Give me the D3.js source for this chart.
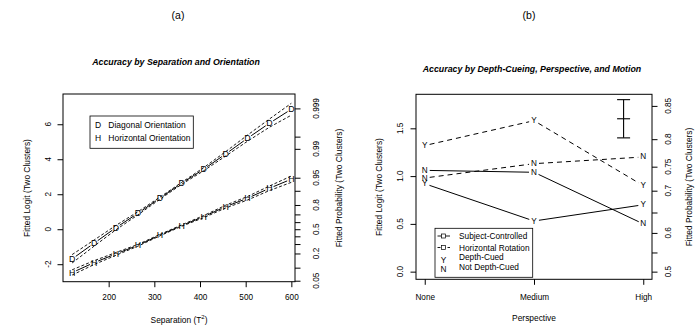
<html>
    <head>
        <style>
            body { margin: 0; background: #fff; }
            text { font-family: "Liberation Sans", Arial, sans-serif; fill: #000; }
        </style>
        <script src="https://d3js.org/d3.v7.min.js"></script>
    </head>
    <body>
        <svg id="chart" width="700" height="329"></svg>
        <script>
            // ---- data, panel (a) ----
            const separation = [120, 168, 216, 264, 312, 360, 408, 456, 504, 552, 600];
            const diagonal = [-1.70, -0.80, 0.09, 0.91, 1.77, 2.63, 3.43, 4.30, 5.20, 6.06, 6.86];
            const diagUpper = [-1.45, -0.62, 0.22, 1.00, 1.83, 2.68, 3.52, 4.43, 5.38, 6.30, 7.20];
            const diagLower = [-1.93, -0.97, -0.03, 0.82, 1.71, 2.57, 3.34, 4.18, 5.03, 5.83, 6.52];
            const horizontal = [-2.48, -1.91, -1.41, -0.92, -0.34, 0.21, 0.72, 1.29, 1.77, 2.34, 2.86];
            const horizUpper = [-2.32, -1.80, -1.33, -0.87, -0.30, 0.25, 0.78, 1.37, 1.87, 2.47, 3.04];
            const horizLower = [-2.62, -2.02, -1.49, -0.97, -0.38, 0.17, 0.66, 1.21, 1.67, 2.21, 2.68];
            const sepTicks = [200, 300, 400, 500, 600];
            const logitTicksA = [-2, 0, 2, 4, 6];
            const probTicksA = [0.05, 0.1, 0.2, 0.3, 0.4, 0.5, 0.6, 0.7, 0.8, 0.9, 0.95, 0.99, 0.995, 0.999];
            const probLabelsA = [0.05, 0.2, 0.5, 0.8, 0.95, 0.99, 0.999];

            // ---- data, panel (b) ----
            const perspective = ['None', 'Medium', 'High'];
            const rotationCued = [1.32, 1.58, 0.90];     // dashed, Y
            const rotationNotCued = [0.98, 1.13, 1.20];  // dashed, N
            const subjectCued = [0.92, 0.53, 0.70];      // solid, Y
            const subjectNotCued = [1.06, 1.04, 0.50];   // solid, N
            const errorBar = [1.40, 1.60, 1.80];         // low, mid, high
            const errorBarAt = 2.82;                     // position on the 1..3 perspective axis
            const logitTicksB = [0, 0.5, 1.0, 1.5];
            const probTicksB = [0.5, 0.55, 0.6, 0.65, 0.7, 0.75, 0.8, 0.85];
            const probLabelsB = [0.5, 0.6, 0.7, 0.75, 0.8, 0.85];

            const svg = d3.select('#chart');
            const logit = p => Math.log(p / (1 - p));
            const TICK = 8.2, TITLE = 8.4, LEG = 8.3;

            // line segments between points, trimmed so the letters sit in a gap
            function gapSegments(pts, gap) {
                const out = [];
                for (let i = 0; i < pts.length - 1; i++) {
                    const [x1, y1] = pts[i], [x2, y2] = pts[i + 1];
                    const len = Math.hypot(x2 - x1, y2 - y1);
                    if (len <= 2 * gap) continue;
                    const ux = (x2 - x1) / len, uy = (y2 - y1) / len;
                    out.push([x1 + ux * gap, y1 + uy * gap, x2 - ux * gap, y2 - uy * gap]);
                }
                return out;
            }

            function drawSegs(g, pts, gap, dash) {
                g.selectAll(null).data(gapSegments(pts, gap)).enter().append('line')
                    .attr('x1', d => d[0]).attr('y1', d => d[1])
                    .attr('x2', d => d[2]).attr('y2', d => d[3])
                    .attr('stroke', '#000').attr('stroke-width', 1)
                    .attr('stroke-dasharray', dash);
            }

            function letters(g, pts, ch, size) {
                g.selectAll(null).data(pts).enter().append('text')
                    .attr('x', d => d[0]).attr('y', d => d[1])
                    .attr('text-anchor', 'middle').attr('dominant-baseline', 'central')
                    .style('font-size', size + 'px').text(ch);
            }

            function rotLabel(g, x, y, txt, size) {
                g.append('text').attr('transform', `translate(${x},${y}) rotate(-90)`)
                    .attr('text-anchor', 'middle').attr('dominant-baseline', 'central')
                    .style('font-size', size + 'px').text(txt);
            }

            // ================= panel (a) =================
            const ga = svg.append('g');
            const xA = d3.scaleLinear().domain([100, 608]).range([63, 295]);
            const yA = d3.scaleLinear().domain([-3.0, 7.73]).range([281.7, 94]);

            ga.append('text').attr('x', 178).attr('y', 15).attr('text-anchor', 'middle')
                .attr('dominant-baseline', 'central').style('font-size', '10.5px').text('(a)');
            ga.append('text').attr('x', 176).attr('y', 62).attr('text-anchor', 'middle')
                .attr('dominant-baseline', 'central')
                .style('font-size', '8.8px').style('font-weight', 'bold').style('font-style', 'italic')
                .text('Accuracy by Separation and Orientation');

            // confidence bands
            const lineA = d3.line().x(d => xA(d[0])).y(d => yA(d[1]));
            [diagUpper, diagLower, horizUpper, horizLower].forEach(arr => {
                ga.append('path').datum(separation.map((s, i) => [s, arr[i]]))
                    .attr('d', lineA).attr('fill', 'none').attr('stroke', '#000')
                    .attr('stroke-width', 0.9).attr('stroke-dasharray', '3,2');
            });
            const dPts = separation.map((s, i) => [xA(s), yA(diagonal[i])]);
            const hPts = separation.map((s, i) => [xA(s), yA(horizontal[i])]);
            drawSegs(ga, dPts, 4.5, null);
            drawSegs(ga, hPts, 4.5, null);
            letters(ga, dPts, 'D', 8.8);
            letters(ga, hPts, 'H', 8.8);

            // box
            ga.append('rect').attr('x', 63).attr('y', 94).attr('width', 232).attr('height', 187.7)
                .attr('fill', 'none').attr('stroke', '#000').attr('stroke-width', 1);

            // bottom axis
            const axB = ga.append('g').attr('transform', 'translate(0,281.7)')
                .call(d3.axisBottom(xA).tickValues(sepTicks).tickSize(5.5).tickPadding(7));
            axB.select('.domain').remove();
            axB.selectAll('text').style('font-size', TICK + 'px').attr('font-family', null);

            // left axis
            const axL = ga.append('g').attr('transform', 'translate(63,0)')
                .call(d3.axisLeft(yA).tickValues(logitTicksA).tickSize(5.5).tickFormat(() => ''));
            axL.select('.domain').remove();
            logitTicksA.forEach(v => rotLabel(ga, 48.5, yA(v), v < 0 ? '-' + Math.abs(v) : String(v), TICK));

            // right axis (probability on logit scale)
            const axR = ga.append('g').attr('transform', 'translate(295,0)')
                .call(d3.axisRight(yA).tickValues(probTicksA.map(logit)).tickSize(5.5).tickFormat(() => ''));
            axR.select('.domain').remove();
            probLabelsA.forEach(p => rotLabel(ga, 316.5, yA(logit(p)), String(p), TICK));

            rotLabel(ga, 27, 188, 'Fitted Logit (Two Clusters)', TITLE);
            rotLabel(ga, 339, 188, 'Fitted Probability (Two Clusters)', TITLE);
            const xt = ga.append('text').attr('x', 179).attr('y', 320).attr('text-anchor', 'middle')
                .attr('dominant-baseline', 'central').style('font-size', TITLE + 'px');
            xt.append('tspan').text('Separation (T');
            xt.append('tspan').attr('dy', -3).style('font-size', '6px').text('2');
            xt.append('tspan').attr('dy', 3).text(')');

            // legend (a)
            ga.append('rect').attr('x', 90).attr('y', 116).attr('width', 103.3).attr('height', 32.3)
                .attr('fill', '#fff').attr('stroke', '#000').attr('stroke-width', 0.8);
            [['D', 'Diagonal Orientation', 125], ['H', 'Horizontal Orientation', 137.5]].forEach(r => {
                ga.append('text').attr('x', 95).attr('y', r[2]).attr('dominant-baseline', 'central')
                    .style('font-size', '8.5px').text(r[0]);
                ga.append('text').attr('x', 108.3).attr('y', r[2]).attr('dominant-baseline', 'central')
                    .style('font-size', '8.5px').text(r[1]);
            });

            // ================= panel (b) =================
            const gb = svg.append('g');
            const xBp = d3.scalePoint().domain(perspective).range([416, 652]).padding(0.08);
            const xBn = d3.scaleLinear().domain([1, 3]).range([xBp('None'), xBp('High')]);
            const yB = d3.scaleLinear().domain([-0.08, 1.856]).range([279.3, 94.3]);

            gb.append('text').attr('x', 529).attr('y', 15).attr('text-anchor', 'middle')
                .attr('dominant-baseline', 'central').style('font-size', '10.5px').text('(b)');
            gb.append('text').attr('x', 532).attr('y', 69).attr('text-anchor', 'middle')
                .attr('dominant-baseline', 'central')
                .style('font-size', '8.8px').style('font-weight', 'bold').style('font-style', 'italic')
                .text('Accuracy by Depth-Cueing, Perspective, and Motion');

            const series = [
                { vals: rotationCued, ch: 'Y', dash: '5,4' },
                { vals: rotationNotCued, ch: 'N', dash: '5,4' },
                { vals: subjectCued, ch: 'Y', dash: null },
                { vals: subjectNotCued, ch: 'N', dash: null }
            ];
            series.forEach(s => {
                const pts = perspective.map((p, i) => [xBp(p), yB(s.vals[i])]);
                drawSegs(gb, pts, 5, s.dash);
                letters(gb, pts, s.ch, 8.2);
            });

            // error bar
            const ex = xBn(errorBarAt);
            gb.append('line').attr('x1', ex).attr('x2', ex).attr('y1', yB(errorBar[0])).attr('y2', yB(errorBar[2]))
                .attr('stroke', '#000').attr('stroke-width', 1.1);
            errorBar.forEach(v => {
                gb.append('line').attr('x1', ex - 6.5).attr('x2', ex + 6.5).attr('y1', yB(v)).attr('y2', yB(v))
                    .attr('stroke', '#000').attr('stroke-width', 1.1);
            });

            gb.append('rect').attr('x', 416).attr('y', 94.3).attr('width', 236).attr('height', 185)
                .attr('fill', 'none').attr('stroke', '#000').attr('stroke-width', 1);

            const bxB = gb.append('g').attr('transform', 'translate(0,279.3)')
                .call(d3.axisBottom(xBp).tickSize(5.5).tickPadding(9));
            bxB.select('.domain').remove();
            bxB.selectAll('text').style('font-size', TICK + 'px').attr('font-family', null);

            const blB = gb.append('g').attr('transform', 'translate(416,0)')
                .call(d3.axisLeft(yB).tickValues(logitTicksB).tickSize(5.5).tickFormat(() => ''));
            blB.select('.domain').remove();
            logitTicksB.forEach(v => rotLabel(gb, 400.5, yB(v), v.toFixed(1), TICK));

            const brB = gb.append('g').attr('transform', 'translate(652,0)')
                .call(d3.axisRight(yB).tickValues(probTicksB.map(logit)).tickSize(5.5).tickFormat(() => ''));
            brB.select('.domain').remove();
            probLabelsB.forEach(p => rotLabel(gb, 668, yB(logit(p)), String(p), TICK));

            rotLabel(gb, 379, 187, 'Fitted Logit (Two Clusters)', TITLE);
            rotLabel(gb, 689, 187, 'Fitted Probability (Two Clusters)', TITLE);
            gb.append('text').attr('x', 534).attr('y', 318).attr('text-anchor', 'middle')
                .attr('dominant-baseline', 'central').style('font-size', TITLE + 'px').text('Perspective');

            // legend (b)
            gb.append('rect').attr('x', 435).attr('y', 228.3).attr('width', 97.7).attr('height', 49)
                .attr('fill', '#fff').attr('stroke', '#000').attr('stroke-width', 0.8);
            [[236, null], [247.5, '3,2']].forEach(r => {
                gb.append('line').attr('x1', 437.5).attr('x2', 450).attr('y1', r[0]).attr('y2', r[0])
                    .attr('stroke', '#000').attr('stroke-width', 0.9).attr('stroke-dasharray', r[1]);
                gb.append('rect').attr('x', 441.5).attr('y', r[0] - 2).attr('width', 4).attr('height', 4)
                    .attr('fill', '#fff').attr('stroke', '#000').attr('stroke-width', 0.7);
            });
            letters(gb, [[443.5, 260]], 'Y', LEG);
            letters(gb, [[443.5, 269]], 'N', LEG);
            [['Subject-Controlled', 236], ['Horizontal Rotation', 247.5], ['Depth-Cued', 257.2], ['Not Depth-Cued', 266.8]]
                .forEach(r => {
                    gb.append('text').attr('x', 459).attr('y', r[1]).attr('dominant-baseline', 'central')
                        .style('font-size', LEG + 'px').text(r[0]);
                });
        </script>
    </body>
</html>
